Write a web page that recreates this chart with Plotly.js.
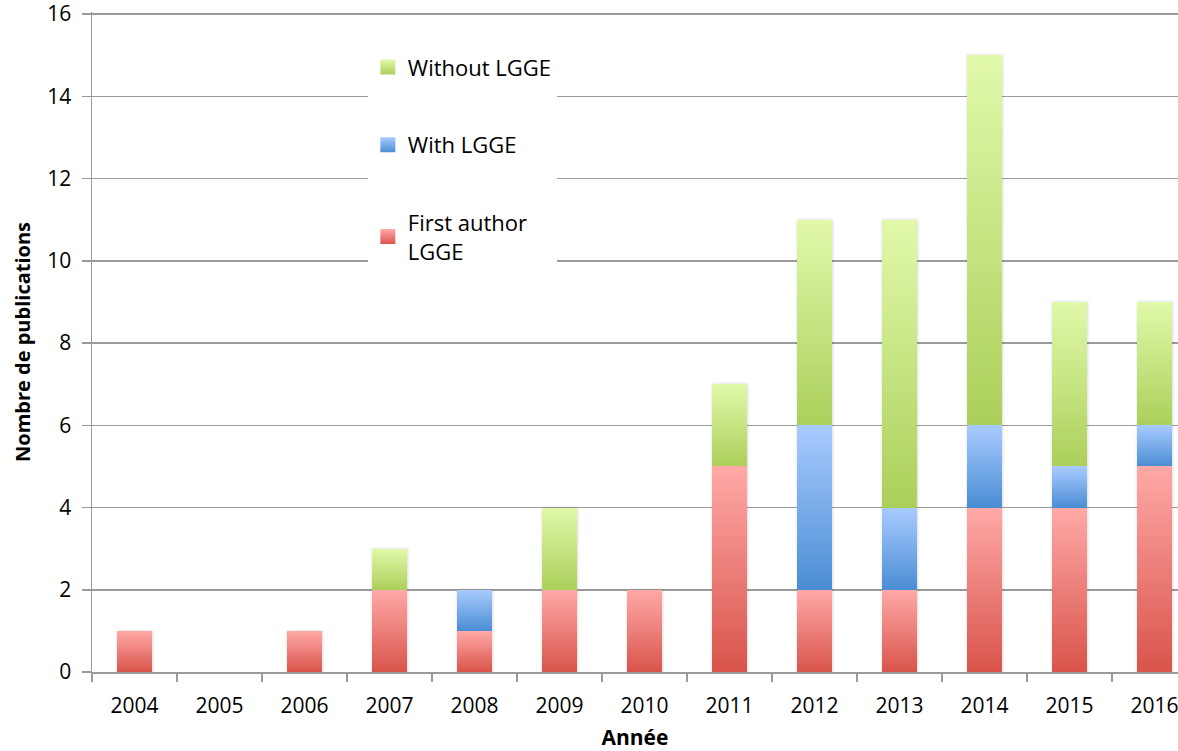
<!DOCTYPE html>
<html>
<head>
<meta charset="utf-8">
<script src="https://cdn.plot.ly/plotly-3.0.1.min.js"></script>
<style>html,body{margin:0;padding:0;background:#fff;}</style>
</head>
<body>
<div id="chart" style="width:1178px;height:751px;"></div>
<script>
const years = ['2004','2005','2006','2007','2008','2009','2010','2011','2012','2013','2014','2015','2016'];
const firstAuthor = [1,0,1,2,1,2,2,5,2,2,4,4,5];
const withLGGE    = [0,0,0,0,1,0,0,0,4,2,2,1,1];
const withoutLGGE = [0,0,0,1,0,2,0,2,5,7,9,4,3];
const seriesNames = ['First author<br>LGGE','With LGGE','Without LGGE'];
const yTicks = [0,2,4,6,8,10,12,14,16];

const grads = [
  {id:'gRed', top:'#FFA9A7', bottom:'#D9544B', mid:'#EE7F78'},
  {id:'gBlue', top:'#A9CBFF', bottom:'#4A8DD4', mid:'#7AAEEB'},
  {id:'gGreen', top:'#E1F9AA', bottom:'#ACCF5A', mid:'#C8E584'}
];

const seriesVals = [firstAuthor, withLGGE, withoutLGGE];
const ranks = [3,2,1];
const traces = seriesVals.map((v,i)=>({
  type:'bar', x: years, y: v, name: seriesNames[i],
  marker:{color: grads[i].mid, line:{width:0}},
  width: 0.41,
  legendgroup: 'g'+i,
  legendrank: ranks[i],
  hoverinfo:'x+y+name'
}));

const font = "'Open Sans', 'Noto Sans', sans-serif";
const layout = {
  width:1178, height:751,
  margin:{l:92, r:0, t:12, b:79},
  barmode:'stack',
  paper_bgcolor:'#fff', plot_bgcolor:'#fff',
  font:{family:font, color:'#000'},
  xaxis:{
    type:'category', range:[-0.5, 12.276],
    showgrid:false, showline:true, linecolor:'#9a9a9a', linewidth:1.5,
    ticks:'outside', tickson:'boundaries', ticklen:8, tickcolor:'#9a9a9a', tickwidth:1.5,
    ticklabelstandoff: 14, ticklabeloverflow:'allow',
    tickfont:{size:21, family:font, color:'#000'},
    title:{text:'<b>Année</b>', font:{size:21, family:font, color:'#000'}, standoff:14},
    zeroline:false
  },
  yaxis:{
    range:[0,16.05], tickvals:yTicks, ticktext: yTicks.map(String),
    showgrid:true, gridcolor:'#9a9a9a', gridwidth:1.5,
    showline:true, linecolor:'#9a9a9a', linewidth:1.5,
    ticks:'outside', ticklen:9, tickcolor:'#9a9a9a', tickwidth:1.5,
    ticklabelstandoff: 6, ticklabeloverflow:'allow',
    tickfont:{size:21, family:font, color:'#000'},
    title:{text:'<b>Nombre de publications</b>', font:{size:20, family:font, color:'#000'}, standoff:11},
    zeroline:false
  },
  legend:{
    x:0.254, y:0.948, xanchor:'left', yanchor:'top',
    bgcolor:'#fff', borderwidth:0,
    traceorder:'grouped', tracegroupgap:46,
    font:{size:22, family:font, color:'#000'},
    itemclick:false
  },
  showlegend:true
};

function addGradients(gd){
  const svg = gd.querySelector('svg.main-svg');
  const ns = 'http://www.w3.org/2000/svg';
  let defs = svg.querySelector('defs');
  if(!defs){ defs = document.createElementNS(ns,'defs'); svg.insertBefore(defs, svg.firstChild); }
  grads.forEach(g=>{
    const lg = document.createElementNS(ns,'linearGradient');
    lg.setAttribute('id', g.id);
    lg.setAttribute('x1','0'); lg.setAttribute('y1','0');
    lg.setAttribute('x2','0'); lg.setAttribute('y2','1');
    const s1 = document.createElementNS(ns,'stop'); s1.setAttribute('offset','0'); s1.setAttribute('stop-color', g.top);
    const s2 = document.createElementNS(ns,'stop'); s2.setAttribute('offset','1'); s2.setAttribute('stop-color', g.bottom);
    lg.appendChild(s1); lg.appendChild(s2); defs.appendChild(lg);
  });
  const filt = document.createElementNS(ns,'filter');
  filt.setAttribute('id','barShadow');
  filt.setAttribute('x','-10%'); filt.setAttribute('y','-5%');
  filt.setAttribute('width','120%'); filt.setAttribute('height','110%');
  filt.innerHTML = '<feDropShadow dx="0.5" dy="0" stdDeviation="1.5" flood-color="#000" flood-opacity="0.18"/>';
  defs.appendChild(filt);

  const traceGroups = gd.querySelectorAll('.barlayer .trace.bars');
  traceGroups.forEach((tg,i)=>{
    tg.querySelectorAll('path').forEach(p=>{ p.style.fill = 'url(#'+grads[i].id+')'; });
  });
  const bl = gd.querySelector('.barlayer');
  if(bl) bl.setAttribute('filter','url(#barShadow)');
  gd.querySelectorAll('.legend .traces').forEach(tr=>{
    const txt = tr.querySelector('text.legendtext');
    const name = txt ? txt.textContent : '';
    let idx = 0;
    if(name.indexOf('Without')===0) idx = 2; else if(name.indexOf('With')===0) idx = 1; else idx = 0;
    tr.querySelectorAll('.legendpoints path').forEach(p=>{
      p.style.fill = 'url(#'+grads[idx].id+')'; p.style.stroke='none';
      p.setAttribute('transform', (p.getAttribute('transform')||'') + ' scale(1.25)');
    });
  });
}

Plotly.newPlot('chart', traces, layout, {displayModeBar:false, staticPlot:true}).then(addGradients);
</script>
</body>
</html>
